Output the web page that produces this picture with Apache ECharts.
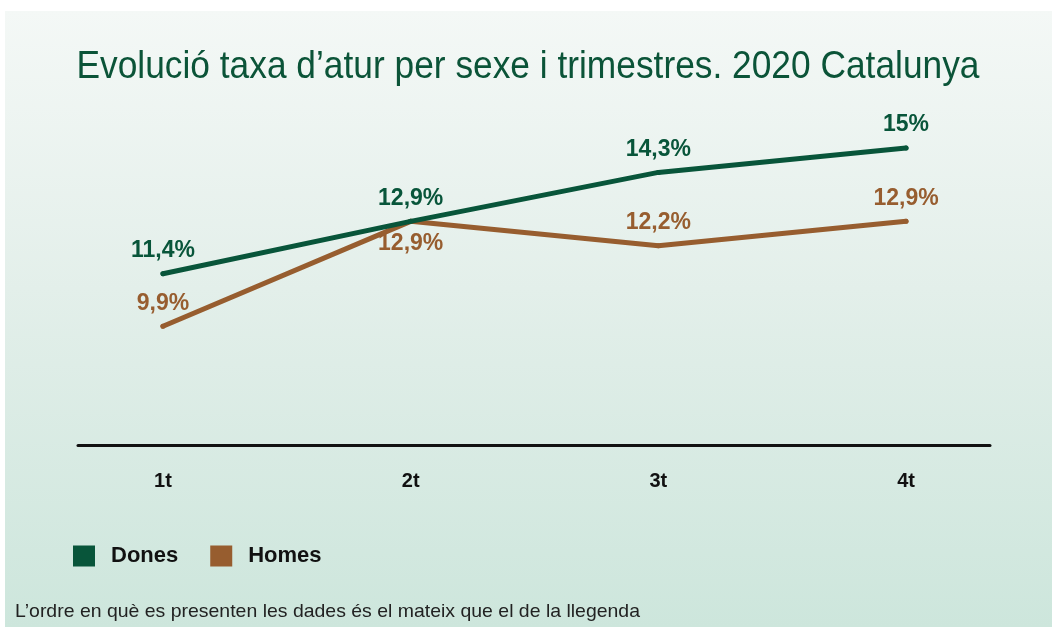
<!DOCTYPE html>
<html>
<head>
<meta charset="utf-8">
<script src="https://cdn.jsdelivr.net/npm/echarts@6/dist/echarts.min.js"></script>
<style>
  html, body { margin: 0; padding: 0; background: #fff; }
  #chart {
    position: absolute; left: 5px; top: 11px; width: 1047px; height: 616px;
    background: linear-gradient(180deg, #f4f8f6 0%, #e3efea 45%, #cde6dc 100%);
  }
</style>
</head>
<body>
<div id="chart"></div>
<script>
const categories = ["1t", "2t", "3t", "4t"];
const dones = [11.4, 12.9, 14.3, 15];
const homes = [9.9, 12.9, 12.2, 12.9];

const titleText = "Evolució taxa d\u2019atur per sexe i trimestres. 2020 Catalunya";
const noteText = "L\u2019ordre en què es presenten les dades és el mateix que el de la llegenda";

const green = "#08553a";
const brown = "#975d2f";
const sans = "'Liberation Sans', Arial, sans-serif";

function pct(v) {
  return String(v).replace(".", ",") + "%";
}

// the original uses a condensed face; squeeze a normal one to the same width
const ctx = document.createElement("canvas").getContext("2d");
function squeeze(text, font, target) {
  ctx.font = font;
  return target / ctx.measureText(text).width;
}
const titleFont = "39px " + sans;
const noteFont = "19px " + sans;

const chart = echarts.init(document.getElementById("chart"));

const option = {
  animation: false,
  legend: {
    left: 68,
    top: 534,
    padding: 0,
    icon: "rect",
    itemWidth: 22,
    itemHeight: 21,
    itemGap: 32,
    textStyle: {
      fontFamily: sans,
      fontWeight: "bold",
      fontSize: 22,
      color: "#111",
      padding: [0, 0, 0, 11]
    },
    data: ["Dones", "Homes"]
  },
  grid: { left: 73, right: 62, top: 102, bottom: 182 },
  xAxis: {
    type: "value",
    min: -0.343,
    max: 3.339,
    splitLine: { show: false },
    axisLine: { show: true, onZero: false, lineStyle: { color: "#111", width: 3 } },
    axisTick: { show: false },
    axisLabel: {
      customValues: [0, 1, 2, 3],
      formatter: v => categories[Math.round(v)],
      margin: 26,
      fontFamily: sans,
      fontWeight: "bold",
      fontSize: 20,
      color: "#111"
    }
  },
  yAxis: {
    type: "value",
    min: 6.5,
    max: 16,
    show: false
  },
  series: [
    {
      name: "Dones",
      type: "line",
      color: green,
      data: dones.map((v, i) => [i, v]),
      symbol: "circle",
      symbolSize: 5,
      lineStyle: { width: 5, color: green, cap: "round" },
      itemStyle: { color: green },
      label: {
        show: true,
        position: "top",
        distance: 9,
        formatter: p => pct(p.value[1]),
        fontFamily: sans,
        fontWeight: "bold",
        fontSize: 23,
        color: green
      },
      z: 3
    },
    {
      name: "Homes",
      type: "line",
      color: brown,
      data: homes.map((v, i) => {
        const item = { value: [i, v] };
        if (i === 1) item.label = { position: "bottom", distance: 8 };
        return item;
      }),
      symbol: "circle",
      symbolSize: 5,
      lineStyle: { width: 5, color: brown, cap: "round" },
      itemStyle: { color: brown },
      label: {
        show: true,
        position: "top",
        distance: 9,
        formatter: p => pct(p.value[1]),
        fontFamily: sans,
        fontWeight: "bold",
        fontSize: 23,
        color: brown
      },
      z: 2
    }
  ],
  graphic: [
    {
      type: "text",
      x: 523,
      y: 56,
      scaleX: squeeze(titleText, titleFont, 903),
      style: {
        text: titleText,
        font: titleFont,
        fill: "#0b5438",
        align: "center",
        verticalAlign: "middle"
      }
    },
    {
      type: "text",
      x: 10,
      y: 601,
      scaleX: squeeze(noteText, noteFont, 625),
      style: {
        text: noteText,
        font: noteFont,
        fill: "#222",
        align: "left",
        verticalAlign: "middle"
      }
    }
  ]
};

chart.setOption(option);
</script>
</body>
</html>
